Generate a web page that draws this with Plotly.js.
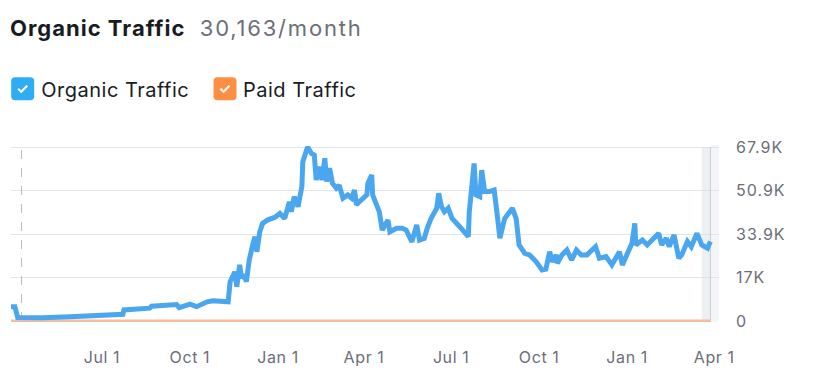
<!DOCTYPE html>
<html>
<head>
<meta charset="utf-8">
<script src="https://cdn.plot.ly/plotly-3.0.1.min.js"></script>
<style>
  html, body { margin: 0; padding: 0; background: #ffffff; }
  #chart { width: 816px; height: 386px; }
  #chart .gtitle { letter-spacing: 1px; }
  #chart .xtick text { letter-spacing: 0.6px; }
  #chart .ytick text { letter-spacing: 1px; }
  #chart .annotation-text { letter-spacing: 0.5px; }
</style>
</head>
<body>
<div id="chart"></div>
<script>
// ---- Data ----
const organicDates = [
  '2022-03-28','2022-04-01','2022-04-04','2022-04-30','2022-05-29','2022-06-29',
  '2022-07-23','2022-07-24','2022-08-20','2022-08-22','2022-09-17','2022-09-20',
  '2022-10-01','2022-10-08','2022-10-19','2022-10-25','2022-11-01','2022-11-10',
  '2022-11-12','2022-11-17','2022-11-19','2022-11-22','2022-11-24','2022-11-27',
  '2022-11-29','2022-12-02','2022-12-06','2022-12-08','2022-12-10','2022-12-13',
  '2022-12-16','2022-12-21','2022-12-29','2023-01-03','2023-01-08','2023-01-13',
  '2023-01-15','2023-01-18','2023-01-22','2023-01-26','2023-01-27','2023-01-30',
  '2023-02-01','2023-02-05','2023-02-08','2023-02-10','2023-02-13','2023-02-16',
  '2023-02-19','2023-02-21','2023-02-24','2023-02-27','2023-03-03','2023-03-06',
  '2023-03-10','2023-03-15','2023-03-19','2023-03-22','2023-03-24','2023-03-27',
  '2023-04-04','2023-04-05','2023-04-09','2023-04-10','2023-04-14','2023-04-17',
  '2023-04-20','2023-04-26','2023-04-28','2023-05-05','2023-05-11','2023-05-15',
  '2023-05-21','2023-05-26','2023-05-29','2023-06-03','2023-06-06','2023-06-10',
  '2023-06-16','2023-06-18','2023-06-21','2023-06-24','2023-06-28','2023-07-02',
  '2023-07-10','2023-07-17','2023-07-19','2023-07-20','2023-07-23','2023-07-25',
  '2023-07-27','2023-07-31','2023-08-02','2023-08-05','2023-08-10','2023-08-15',
  '2023-08-18','2023-08-21','2023-08-26','2023-08-31','2023-09-03','2023-09-07',
  '2023-09-10','2023-09-16','2023-09-21','2023-09-28','2023-10-04','2023-10-08',
  '2023-10-12','2023-10-15','2023-10-19','2023-10-20','2023-10-25','2023-10-30',
  '2023-11-04','2023-11-09','2023-11-14','2023-11-20','2023-11-29','2023-12-03',
  '2023-12-10','2023-12-16','2023-12-24','2023-12-27','2024-01-01','2024-01-06',
  '2024-01-09','2024-01-10','2024-01-17','2024-01-22','2024-01-27','2024-02-03',
  '2024-02-06','2024-02-11','2024-02-14','2024-02-19','2024-02-24','2024-02-27',
  '2024-03-04','2024-03-08','2024-03-14','2024-03-19','2024-03-25','2024-03-28'
];
const organicValues = [
  5600, 5600, 1400, 1300, 1700, 2100,
  2600, 4300, 5000, 5800, 6400, 5200,
  6600, 5600, 7500, 7900, 7800, 7500,
  15300, 19200, 13400, 21900, 16800, 18000,
  15300, 23800, 30300, 32900, 27000, 34800,
  38100, 39400, 40500, 42000, 40000, 46500,
  42600, 48500, 44600, 52400, 62200, 66700,
  67900, 65400, 64800, 55000, 60200, 55000,
  63500, 54400, 59600, 53700, 51800, 53000,
  47900, 49200, 47900, 51100, 45300, 46500,
  49200, 53700, 57000, 49200, 45900, 42600,
  35500, 39400, 34800, 36200, 36200, 35500,
  30900, 37500, 31600, 32300, 36200, 40000,
  44000, 49800, 44600, 42600, 44000, 40000,
  36800, 34200, 32900, 42600, 57600, 61500,
  49200, 48500, 58900, 50500, 50500, 51100,
  42000, 32300, 40000, 42600, 44000, 40000,
  29700, 26400, 25800, 23100, 19900, 20200,
  27000, 23100, 25800, 22500, 25800, 27700,
  23800, 27700, 25800, 25800, 29000, 24500,
  25100, 21900, 27000, 21900, 26400, 30300,
  38100, 29700, 31600, 29700, 31600, 34200,
  29700, 32300, 29000, 33600, 24500, 25800,
  31000, 29000, 34200, 29700, 28400, 31000
];
const paidDates = ['2022-03-28', '2024-03-28'];
const paidValues = [0, 0];

const yTickVals = [0, 16975, 33950, 50925, 67900];
const yTickText = ['0', '17K', '33.9K', '50.9K', '67.9K'];
const xTickVals = ['2022-07-01','2022-10-01','2023-01-01','2023-04-01','2023-07-01','2023-10-01','2024-01-01','2024-04-01'];
const xTickText = ['Jul 1','Oct 1','Jan 1','Apr 1','Jul 1','Oct 1','Jan 1','Apr 1'];

const titleMain = 'Organic Traffic';
const titleSub = '30,163/month';
const legendNames = ['Organic Traffic', 'Paid Traffic'];
const markerDate = '2022-04-08';
const bandStart = '2024-03-19';
const lastDate = '2024-03-28';

// ---- Styles ----
const BLUE_LINE = '#4aa6ef';
const BLUE_BOX = '#2fadf4';
const ORANGE_LINE = '#f5bd9c';
const ORANGE_BOX = '#ff8e45';
const TEXT_DARK = '#191b23';
const TEXT_GRAY = '#6c6e79';
const FONT = 'Inter, "Noto Sans", sans-serif';

const traces = [
  {
    x: paidDates, y: paidValues, type: 'scatter', mode: 'lines',
    name: legendNames[1], line: { color: ORANGE_LINE, width: 3 },
    hoverinfo: 'skip'
  },
  {
    x: organicDates, y: organicValues, type: 'scatter', mode: 'lines',
    name: legendNames[0], line: { color: BLUE_LINE, width: 5, shape: 'linear' },
    hoverinfo: 'skip'
  }
];

// plot area: x 11..719 px, y 145..322 px
function px2paperX(px) { return (px - 11) / 708; }
function px2paperY(py) { return (322 - py) / 177; }

function roundedBox(cx, cy, color) {
  const r = 4, h = 11.5;
  const path = `M ${-h + r},${-h} L ${h - r},${-h} Q ${h},${-h} ${h},${-h + r} L ${h},${h - r} Q ${h},${h} ${h - r},${h} L ${-h + r},${h} Q ${-h},${h} ${-h},${h - r} L ${-h},${-h + r} Q ${-h},${-h} ${-h + r},${-h} Z`;
  return {
    type: 'path', xref: 'paper', yref: 'paper', xsizemode: 'pixel', ysizemode: 'pixel',
    xanchor: px2paperX(cx), yanchor: px2paperY(cy), path: path,
    fillcolor: color, line: { width: 0 }, layer: 'above'
  };
}
function checkMark(cx, cy) {
  return {
    type: 'path', xref: 'paper', yref: 'paper', xsizemode: 'pixel', ysizemode: 'pixel',
    xanchor: px2paperX(cx), yanchor: px2paperY(cy),
    path: 'M -4.5,0 L -1.5,-3 L 4.5,3',
    line: { color: '#ffffff', width: 2.2 }, layer: 'above'
  };
}

const shapes = [
  { type: 'line', xref: 'x', yref: 'y', x0: markerDate, x1: markerDate, y0: 0, y1: 67900,
    line: { color: '#b9bbc1', width: 1, dash: 'dash' }, layer: 'between' },
  { type: 'rect', xref: 'x', yref: 'y', x0: bandStart, x1: lastDate, y0: -390, y1: 67900,
    fillcolor: 'rgba(215,222,226,0.45)', line: { width: 0 }, layer: 'between' },
  { type: 'rect', xref: 'x', yref: 'paper', x0: lastDate, x1: '2024-04-06', y0: 0, y1: 1,
    fillcolor: '#f3f5f6', line: { width: 0 }, layer: 'between' },
  { type: 'line', xref: 'x', yref: 'y', x0: lastDate, x1: lastDate, y0: -390, y1: 67900,
    line: { color: '#c8ccd1', width: 1 }, layer: 'between' },
  roundedBox(22.7, 88.7, BLUE_BOX), checkMark(22.7, 88.7),
  roundedBox(225, 88.7, ORANGE_BOX), checkMark(225, 88.7)
];

const annotations = [
  { xref: 'paper', yref: 'paper', x: px2paperX(43), y: px2paperY(90), xanchor: 'left', yanchor: 'middle',
    text: legendNames[0], showarrow: false, font: { family: FONT, size: 20, color: TEXT_DARK } },
  { xref: 'paper', yref: 'paper', x: px2paperX(244), y: px2paperY(90), xanchor: 'left', yanchor: 'middle',
    text: legendNames[1], showarrow: false, font: { family: FONT, size: 20, color: TEXT_DARK } }
];

const layout = {
  width: 816, height: 386,
  margin: { l: 11, r: 97, t: 145, b: 64 },
  paper_bgcolor: '#ffffff', plot_bgcolor: '#ffffff',
  showlegend: false,
  font: { family: FONT, color: TEXT_GRAY },
  title: {
    text: '<b>' + titleMain + '</b>&nbsp;&nbsp;<span style="color:' + TEXT_GRAY + ';letter-spacing:1.8px">' + titleSub + '</span>',
    x: 10 / 816, xref: 'container', xanchor: 'left',
    y: 1 - 28 / 386, yref: 'container', yanchor: 'middle',
    font: { family: FONT, size: 22, color: TEXT_DARK }
  },
  xaxis: {
    type: 'date', range: ['2022-03-28', '2024-04-06'],
    tickvals: xTickVals, ticktext: xTickText,
    showgrid: false, zeroline: false, showline: false, ticks: '',
    ticklabelstandoff: 24,
    tickfont: { family: FONT, size: 16, color: TEXT_GRAY },
    fixedrange: true
  },
  yaxis: {
    side: 'right', range: [-390, 68680],
    tickvals: yTickVals, ticktext: yTickText,
    showgrid: true, gridcolor: '#e4e5ea', gridwidth: 1,
    zeroline: false, showline: false, ticks: '',
    ticklabelstandoff: 16,
    tickfont: { family: FONT, size: 16, color: TEXT_GRAY },
    fixedrange: true
  },
  shapes: shapes,
  annotations: annotations
};

Plotly.newPlot('chart', traces, layout, { displayModeBar: false, staticPlot: true });
</script>
</body>
</html>
